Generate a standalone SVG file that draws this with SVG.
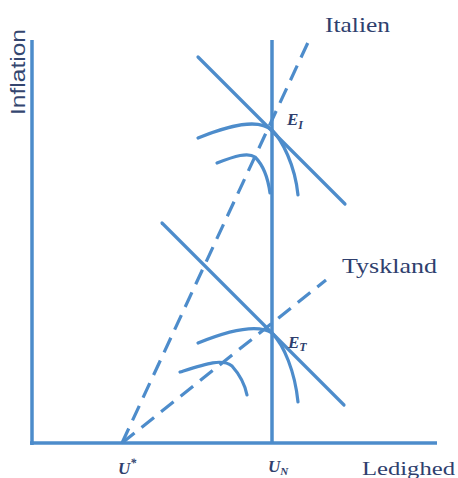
<svg xmlns="http://www.w3.org/2000/svg" width="458" height="478" viewBox="0 0 458 478">
<style>
.ax{stroke:#4d8ccb;stroke-width:3.5;fill:none}
.ln{stroke:#4d8ccb;stroke-width:3.2;fill:none;stroke-linecap:round}
.ds{stroke:#4d8ccb;stroke-width:3.2;fill:none;stroke-dasharray:16 9}
.lab{font-family:"Liberation Serif",serif;fill:#2f3f6e}
.it{font-family:"Liberation Serif",serif;font-style:italic;font-weight:bold;fill:#2f3f6e}
</style>
<rect width="458" height="478" fill="#ffffff"/>
<g id="axes">
<line class="ax" x1="32" y1="40" x2="32" y2="445"/>
<line class="ax" x1="30" y1="443" x2="437" y2="443"/>
<line class="ax" x1="272" y1="40" x2="272" y2="443"/>
</g>
<g id="connectors">
<line class="ds" x1="122" y1="443" x2="311" y2="36"/>
<line class="ds" x1="122" y1="443" x2="326" y2="280"/>
<line class="ln" x1="198" y1="57" x2="345" y2="204"/>
<line class="ln" x1="162" y1="223" x2="344" y2="405"/>
<path class="ln" d="M198,138 C230,125 258,118 272,130 C282,140 295,165 298,195"/>
<path class="ln" d="M217,163 C235,156 248,152 255,157 C263,165 268,178 270,193"/>
<path class="ln" d="M198,343 C230,330 258,324 272,333 C284,345 295,372 298,402"/>
<path class="ln" d="M180,372 C205,364 222,358 232,366 C240,375 245,385 247,395"/>
</g>
<g id="labels">
<text x="0" y="0" transform="translate(25,115) rotate(-90)" font-family="'Liberation Sans Narrow','Liberation Sans',sans-serif" font-size="20" fill="#34466f" textLength="86" lengthAdjust="spacingAndGlyphs">Inflation</text>
<text class="lab" x="325" y="32" font-size="21" textLength="65" lengthAdjust="spacingAndGlyphs">Italien</text>
<text class="lab" x="342" y="273" font-size="21" textLength="95" lengthAdjust="spacingAndGlyphs">Tyskland</text>
<text class="lab" x="362" y="475" font-size="18" textLength="93" lengthAdjust="spacingAndGlyphs">Ledighed</text>
<text class="it" x="118" y="474" font-size="17">U<tspan font-size="12" dy="-7">*</tspan></text>
<text class="it" x="268" y="472" font-size="17">U<tspan font-size="11" dy="3">N</tspan></text>
<text class="it" x="287" y="125" font-size="17">E<tspan font-size="12" dy="4">I</tspan></text>
<text class="it" x="288" y="348" font-size="17">E<tspan font-size="12" dy="3">T</tspan></text>
</g>
</svg>
